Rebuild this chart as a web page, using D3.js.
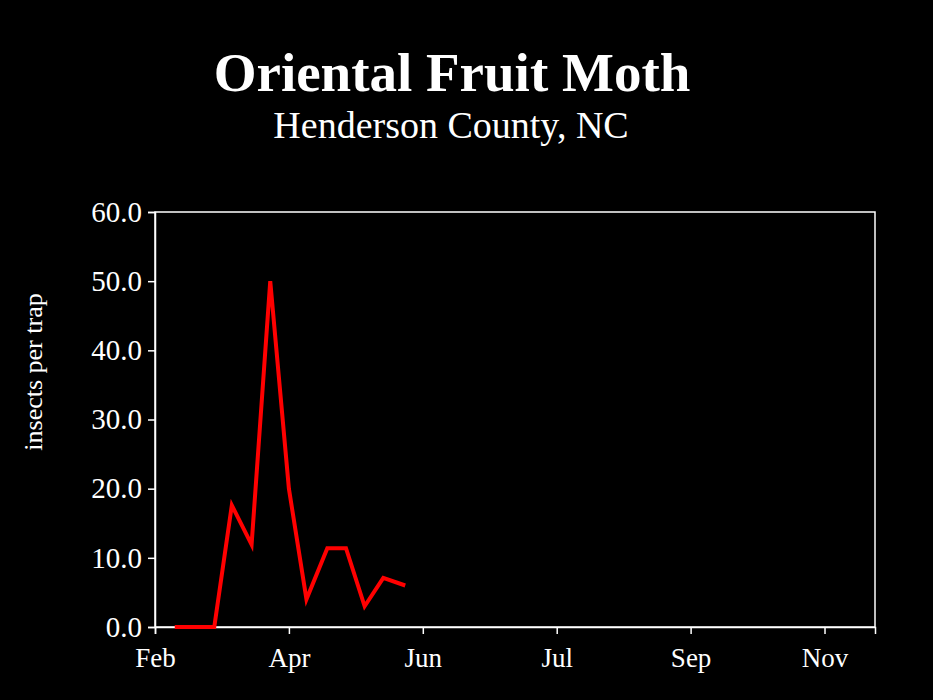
<!DOCTYPE html>
<html><head><meta charset="utf-8">
<script src="https://cdn.jsdelivr.net/npm/d3@7"></script>
<style>body{margin:0;background:#000}svg{display:block}</style></head>
<body><svg id="c" width="933" height="700"></svg>
<script>
const days = [9, 27, 35, 44, 52.5, 61, 69, 78.5, 87, 95.5, 104, 114];
const values = [0, 0, 17.6, 11.9, 50, 20, 4, 11.4, 11.4, 3, 7.1, 6];
const tickDays = [0, 61, 122, 183, 244, 305];
const tickLabels = ["Feb", "Apr", "Jun", "Jul", "Sep", "Nov"];
const yTicks = [0, 10, 20, 30, 40, 50, 60];

const svg = d3.select("#c");
const font = "'Liberation Serif', 'DejaVu Serif', serif";
const L = 155, R = 875, T = 212, B = 627;
const x = d3.scaleLinear().domain([0, 328]).range([L, R]);
const y = d3.scaleLinear().domain([0, 60]).range([B, T]);

svg.append("text").attr("x", 452).attr("y", 91).attr("text-anchor", "middle")
  .attr("fill", "#fff").attr("font-family", font).attr("font-weight", "bold")
  .attr("font-size", 55).text("Oriental Fruit Moth");
svg.append("text").attr("x", 451).attr("y", 138).attr("text-anchor", "middle")
  .attr("fill", "#fff").attr("font-family", font).attr("font-size", 38)
  .text("Henderson County, NC");

svg.append("rect").attr("x", L).attr("y", T).attr("width", R - L).attr("height", B - T)
  .attr("fill", "none").attr("stroke", "#fff").attr("stroke-width", 1.5);

const ya = svg.append("g").attr("transform", `translate(${L},0)`)
  .call(d3.axisLeft(y).tickValues(yTicks).tickFormat(d3.format(".1f")).tickSize(7).tickPadding(6));
const xa = svg.append("g").attr("transform", `translate(0,${B})`)
  .call(d3.axisBottom(x).tickValues(tickDays).tickFormat((d, i) => tickLabels[i]).tickSize(7).tickPadding(14));
[ya, xa].forEach(g => {
  g.select(".domain").attr("stroke", "#fff").attr("stroke-width", 1.5);
  g.selectAll("line").attr("stroke", "#fff").attr("stroke-width", 1.5);
  g.selectAll("text").attr("fill", "#fff").attr("font-family", font).style("font-size", "29px");
});
xa.selectAll("text").style("font-size", "27px");

svg.append("text").attr("transform", "translate(42,372) rotate(-90)").attr("text-anchor", "middle")
  .attr("fill", "#fff").attr("font-family", font).attr("font-size", 26).text("insects per trap");

svg.append("path").datum(days.map((d, i) => [d, values[i]]))
  .attr("d", d3.line().x(d => x(d[0])).y(d => y(d[1])))
  .attr("fill", "none").attr("stroke", "#ff0000").attr("stroke-width", 4).attr("stroke-linejoin", "miter");
</script></body></html>
